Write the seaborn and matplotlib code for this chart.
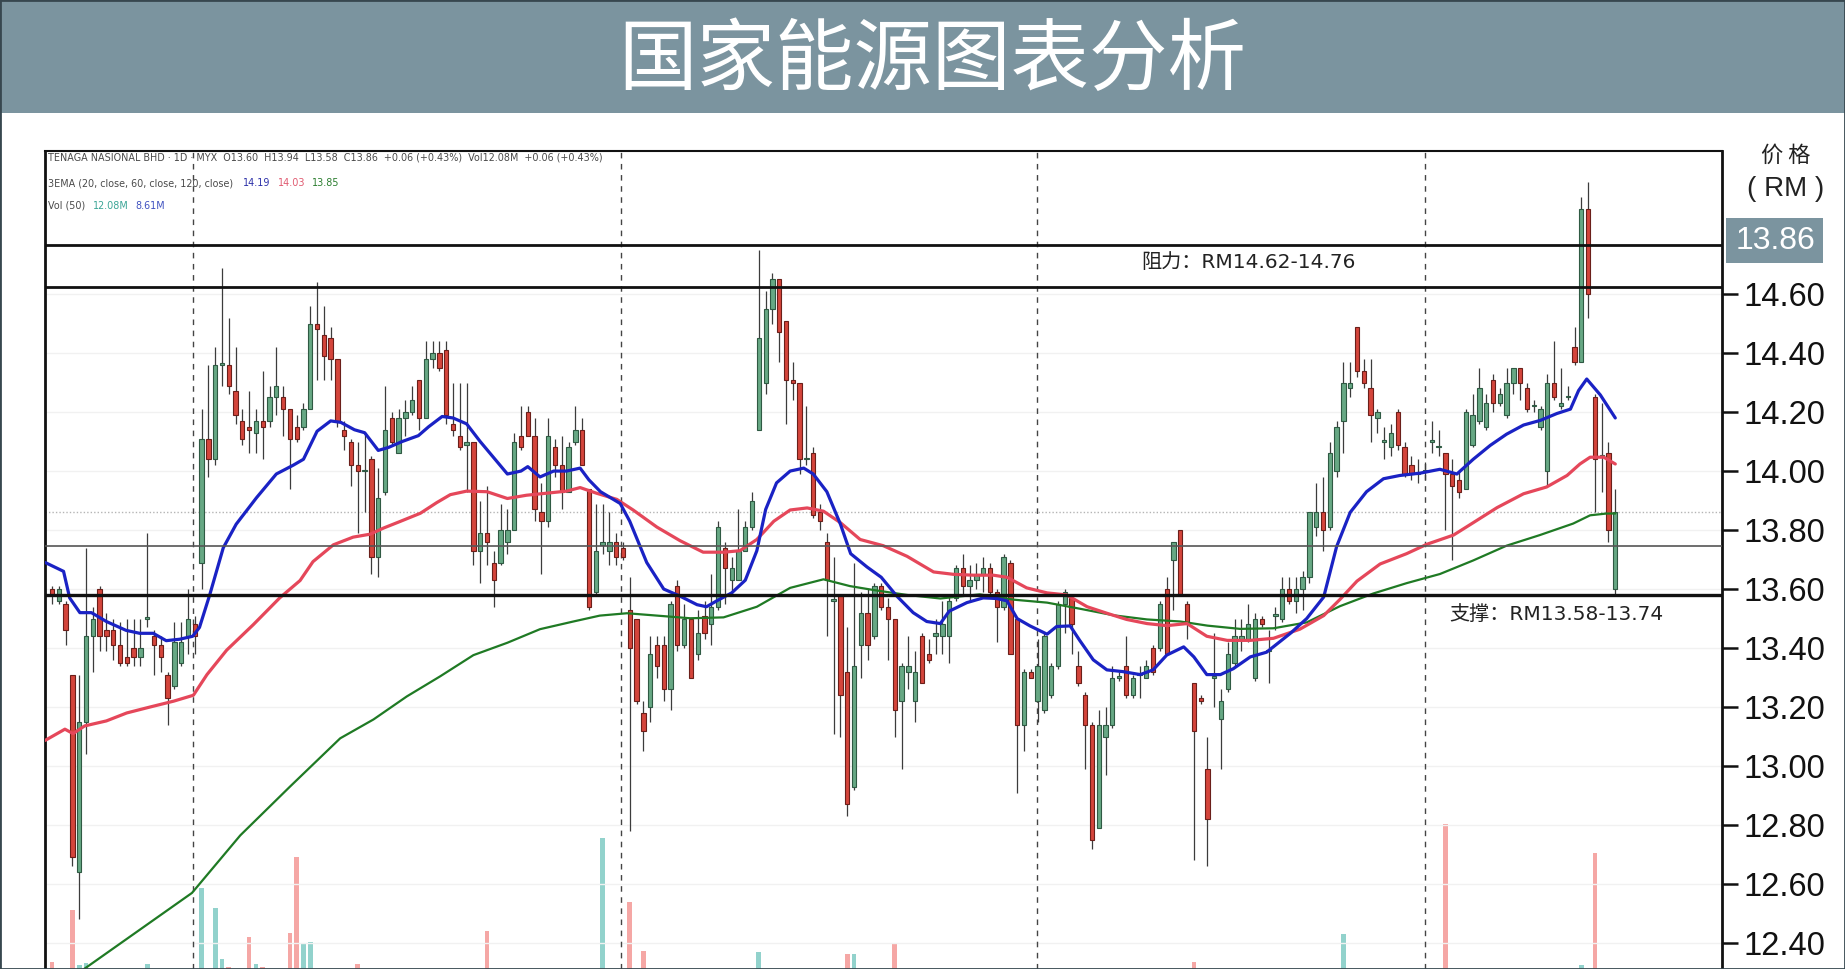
import numpy as np
import seaborn as sns
import matplotlib.pyplot as plt
from matplotlib import font_manager
from matplotlib.patches import Rectangle

W, H = 1845, 969

# ---- daily candles (index 0 = first visible day) ----
opens = [
    13.60, 13.56, 13.55, 13.31, 12.64, 13.15, 13.44, 13.60, 13.46, 13.46,
    13.41, 13.37, 13.40, 13.37, 13.50, 13.44, 13.41, 13.31, 13.27, 13.35,
    13.44, 13.48, 13.69, 14.11, 14.04, 14.36, 14.36, 14.27, 14.17, 14.15,
    14.13, 14.17, 14.17, 14.25, 14.25, 14.21, 14.15, 14.15, 14.21, 14.50,
    14.46, 14.45, 14.38, 14.14, 14.10, 14.02, 14.00, 14.04, 13.71, 13.93,
    14.18, 14.06, 14.18, 14.20, 14.31, 14.18, 14.38, 14.40, 14.41, 14.16,
    14.12, 14.09, 14.10, 13.73, 13.79, 13.69, 13.69, 13.76, 13.80, 14.12,
    14.20, 14.12, 13.86, 13.83, 14.08, 14.02, 13.93, 14.10, 14.14, 13.94,
    13.59, 13.75, 13.73, 13.76, 13.74, 13.53, 13.50, 13.18, 13.20, 13.41,
    13.41, 13.26, 13.61, 13.41, 13.50, 13.38, 13.51, 13.48, 13.54, 13.74,
    13.63, 13.63, 13.73, 13.81, 14.14, 14.30, 14.55, 14.65, 14.51, 14.31,
    14.30, 14.04, 14.06, 13.86, 13.76, 13.56, 13.58, 13.32, 12.93, 13.41,
    13.52, 13.44, 13.61, 13.54, 13.50, 13.22, 13.32, 13.22, 13.44, 13.38,
    13.44, 13.44, 13.44, 13.57, 13.67, 13.61, 13.63, 13.65, 13.67, 13.59,
    13.54, 13.69, 13.50, 13.14, 13.32, 13.22, 13.19, 13.24, 13.34, 13.55,
    13.57, 13.34, 13.24, 13.14, 12.79, 13.10, 13.14, 13.30, 13.34, 13.24,
    13.31, 13.30, 13.40, 13.40, 13.60, 13.70, 13.80, 13.55, 13.28, 13.23,
    12.99, 13.30, 13.16, 13.26, 13.35, 13.43, 13.43, 13.30, 13.50, 13.39,
    13.51, 13.50, 13.60, 13.56, 13.60, 13.64, 13.81, 13.86, 13.81, 14.00,
    14.17, 14.28, 14.49, 14.34, 14.28, 14.18, 14.10, 14.08, 14.20, 14.08,
    14.02, 13.99, 14.00, 14.10, 14.08, 14.06, 13.99, 13.97, 13.94, 14.09,
    14.17, 14.15, 14.31, 14.23, 14.19, 14.30, 14.35, 14.28, 14.22, 14.15,
    14.00, 14.30, 14.22, 14.25, 14.42, 14.37, 14.89, 14.25, 14.05, 14.06, 13.60,
]
highs = [
    13.61, 13.61, 13.56, 13.31, 13.31, 13.74, 13.54, 13.61, 13.52, 13.50,
    13.49, 13.50, 13.50, 13.50, 13.79, 13.46, 13.44, 13.32, 13.49, 13.49,
    13.60, 13.51, 14.21, 14.36, 14.42, 14.69, 14.52, 14.42, 14.21, 14.27,
    14.21, 14.34, 14.29, 14.42, 14.29, 14.21, 14.19, 14.23, 14.56, 14.64,
    14.56, 14.49, 14.38, 14.17, 14.11, 14.10, 14.13, 14.05, 14.01, 14.29,
    14.20, 14.21, 14.24, 14.29, 14.31, 14.44, 14.44, 14.44, 14.44, 14.30,
    14.30, 14.30, 14.10, 13.90, 13.95, 13.73, 13.89, 13.87, 14.13, 14.22,
    14.22, 14.18, 13.96, 14.18, 14.11, 14.12, 14.10, 14.22, 14.18, 13.94,
    13.89, 13.89, 13.86, 13.79, 13.76, 13.64, 13.50, 13.22, 13.44, 13.44,
    13.44, 13.56, 13.63, 13.55, 13.50, 13.53, 13.56, 13.65, 13.83, 13.76,
    13.71, 13.87, 13.83, 13.93, 14.75, 14.61, 14.67, 14.65, 14.51, 14.37,
    14.30, 14.22, 14.08, 13.89, 13.79, 13.71, 13.58, 13.47, 13.69, 13.59,
    13.60, 13.62, 13.62, 13.57, 13.50, 13.35, 13.44, 13.39, 13.45, 13.43,
    13.50, 13.56, 13.58, 13.68, 13.72, 13.68, 13.69, 13.71, 13.69, 13.60,
    13.72, 13.70, 13.50, 13.33, 13.33, 13.43, 13.45, 13.35, 13.56, 13.60,
    13.58, 13.39, 13.25, 13.15, 13.19, 13.20, 13.34, 13.32, 13.44, 13.31,
    13.34, 13.36, 13.41, 13.56, 13.64, 13.76, 13.80, 13.56, 13.28, 13.24,
    13.10, 13.45, 13.26, 13.42, 13.50, 13.50, 13.55, 13.52, 13.51, 13.46,
    13.54, 13.64, 13.64, 13.64, 13.66, 13.86, 13.96, 13.98, 14.10, 14.17,
    14.37, 14.37, 14.49, 14.38, 14.38, 14.21, 14.15, 14.16, 14.21, 14.10,
    14.05, 14.04, 14.03, 14.17, 14.14, 14.06, 14.04, 14.00, 14.21, 14.26,
    14.35, 14.26, 14.33, 14.28, 14.35, 14.35, 14.35, 14.30, 14.24, 14.22,
    14.33, 14.44, 14.35, 14.29, 14.49, 14.93, 14.98, 14.26, 14.23, 14.10, 13.94,
]
lows = [
    13.55, 13.55, 13.41, 12.66, 12.48, 13.04, 13.32, 13.39, 13.39, 13.36,
    13.34, 13.34, 13.34, 13.34, 13.47, 13.31, 13.32, 13.14, 13.26, 13.34,
    13.38, 13.38, 13.60, 13.98, 14.02, 14.29, 14.26, 14.16, 14.09, 14.06,
    14.06, 14.04, 14.15, 14.19, 14.12, 13.94, 14.10, 14.14, 14.21, 14.31,
    14.31, 14.31, 14.15, 14.07, 13.95, 13.79, 13.86, 13.65, 13.64, 13.92,
    14.09, 14.06, 14.12, 14.19, 14.14, 14.18, 14.35, 14.34, 14.16, 14.12,
    14.07, 13.93, 13.68, 13.62, 13.68, 13.54, 13.68, 13.72, 13.80, 14.07,
    14.12, 13.83, 13.65, 13.81, 13.98, 13.87, 13.93, 14.09, 14.02, 13.53,
    13.58, 13.72, 13.68, 13.68, 13.70, 12.78, 13.21, 13.05, 13.15, 13.30,
    13.22, 13.19, 13.39, 13.40, 13.30, 13.36, 13.43, 13.41, 13.53, 13.55,
    13.58, 13.63, 13.73, 13.80, 14.14, 14.26, 14.50, 14.37, 14.16, 14.24,
    13.99, 14.02, 13.84, 13.80, 13.44, 13.11, 13.10, 12.83, 12.92, 13.30,
    13.36, 13.43, 13.53, 13.36, 13.10, 12.99, 13.26, 13.15, 13.28, 13.35,
    13.38, 13.38, 13.35, 13.56, 13.58, 13.56, 13.60, 13.59, 13.58, 13.42,
    13.53, 13.38, 12.91, 13.05, 13.30, 13.15, 13.18, 13.23, 13.33, 13.45,
    13.38, 13.27, 12.99, 12.72, 12.79, 12.97, 13.13, 13.29, 13.23, 13.23,
    13.23, 13.30, 13.31, 13.39, 13.38, 13.53, 13.58, 13.43, 12.68, 13.21,
    12.66, 13.20, 12.99, 13.25, 13.34, 13.39, 13.42, 13.29, 13.47, 13.28,
    13.46, 13.49, 13.55, 13.52, 13.53, 13.62, 13.78, 13.73, 13.80, 13.98,
    14.06, 14.25, 14.32, 14.28, 14.10, 14.13, 14.04, 14.05, 14.07, 13.98,
    13.97, 13.96, 13.97, 14.06, 14.05, 13.80, 13.70, 13.91, 13.94, 14.08,
    14.16, 14.14, 14.20, 14.22, 14.18, 14.26, 14.24, 14.20, 14.20, 14.14,
    13.95, 14.24, 14.21, 14.24, 14.36, 14.37, 14.52, 13.86, 13.93, 13.76, 13.58,
]
closes = [
    13.58, 13.60, 13.46, 12.69, 13.15, 13.44, 13.50, 13.44, 13.44, 13.41,
    13.35, 13.35, 13.37, 13.40, 13.50, 13.41, 13.37, 13.23, 13.42, 13.42,
    13.50, 13.44, 14.11, 14.04, 14.36, 14.36, 14.29, 14.19, 14.11, 14.14,
    14.17, 14.15, 14.25, 14.29, 14.21, 14.11, 14.11, 14.21, 14.50, 14.48,
    14.39, 14.38, 14.17, 14.12, 14.02, 14.00, 14.00, 13.71, 13.91, 14.14,
    14.10, 14.18, 14.20, 14.24, 14.18, 14.38, 14.40, 14.35, 14.19, 14.14,
    14.08, 14.10, 13.73, 13.79, 13.76, 13.63, 13.80, 13.80, 14.10, 14.08,
    14.12, 13.87, 13.83, 14.12, 14.02, 13.93, 14.08, 14.14, 14.02, 13.54,
    13.73, 13.76, 13.76, 13.71, 13.71, 13.40, 13.22, 13.12, 13.38, 13.34,
    13.26, 13.55, 13.41, 13.50, 13.30, 13.45, 13.45, 13.54, 13.81, 13.67,
    13.67, 13.73, 13.81, 13.90, 14.45, 14.55, 14.65, 14.47, 14.31, 14.30,
    14.04, 14.04, 13.85, 13.83, 13.63, 13.56, 13.24, 12.87, 13.34, 13.52,
    13.41, 13.61, 13.54, 13.50, 13.19, 13.34, 13.34, 13.32, 13.28, 13.36,
    13.45, 13.48, 13.56, 13.67, 13.61, 13.63, 13.65, 13.67, 13.59, 13.54,
    13.71, 13.38, 13.14, 13.32, 13.30, 13.34, 13.44, 13.34, 13.55, 13.59,
    13.48, 13.28, 13.14, 12.75, 13.14, 13.14, 13.30, 13.30, 13.24, 13.30,
    13.31, 13.34, 13.32, 13.55, 13.38, 13.76, 13.58, 13.48, 13.12, 13.22,
    12.82, 13.30, 13.22, 13.38, 13.44, 13.44, 13.48, 13.50, 13.48, 13.39,
    13.51, 13.60, 13.56, 13.60, 13.64, 13.86, 13.86, 13.80, 14.06, 14.15,
    14.30, 14.30, 14.34, 14.30, 14.19, 14.20, 14.10, 14.13, 14.09, 13.99,
    13.99, 13.99, 14.00, 14.10, 14.08, 13.99, 13.95, 13.93, 14.20, 14.19,
    14.28, 14.23, 14.23, 14.26, 14.30, 14.35, 14.30, 14.21, 14.22, 14.21,
    14.30, 14.25, 14.23, 14.25, 14.37, 14.89, 14.60, 14.04, 14.05, 13.80, 13.86,
]

# volume (millions), only the days whose bars reach into the visible area
vol_idx = [0, 3, 4, 5, 14, 22, 24, 25, 26, 29, 30, 31, 35, 36, 37, 38, 45, 64,
           81, 85, 87, 104, 117, 118, 124, 168, 190, 205, 225, 227]
vol_m = [16.3, 25.0, 15.8, 16.2, 16.0, 28.7, 25.3, 16.8, 15.5, 20.5, 16.0, 15.5,
         21.2, 33.8, 19.3, 19.7, 16.0, 21.5, 37.0, 26.3, 18.2, 18.0, 17.7, 17.7,
         19.5, 16.3, 21.0, 39.3, 15.8, 34.5]

# EMA lines (day index, price)
ema20_x = [-1, 1.7, 2.6, 4.1, 5.8, 8, 10.9, 12.9, 14.9, 16.8,
           18.8, 20.7, 21.7, 23.2, 25.2, 27.1, 30.1, 33, 35.5, 37,
           39, 41, 42.5, 44.5, 46, 48, 49.5, 51.5, 53.9, 55.4,
           57.4, 59, 61, 63, 67, 69, 70, 71.8, 73.8, 75.7,
           77.7, 79, 80.7, 83.6, 85, 87.5, 90, 92.4, 94.9, 96.3,
           97.8, 100, 102, 103.7, 105, 106.6, 108.6, 110.6, 112, 114,
           116, 117.5, 119.9, 122, 124.3, 126.7, 128.7, 130.7, 132, 134.6,
           137, 139, 140.5, 142, 143.9, 146.4, 147.8, 149.8, 151.2, 153.2,
           155.2, 157.6, 160.1, 162, 164, 166.5, 168, 169.9, 171.9, 173.8,
           176.3, 178.7, 182.2, 184.6, 187.1, 189, 191, 193.4, 195.9, 198.3,
           201.3, 204.2, 206.7, 209.1, 211.6, 214, 216.5, 219, 221.4, 223.4,
           224.6, 225.8, 227.8, 230]
ema20_y = [13.69, 13.66, 13.57, 13.52, 13.52, 13.49, 13.46, 13.45, 13.45, 13.425,
           13.43, 13.44, 13.47, 13.58, 13.74, 13.82, 13.91, 13.99, 14.02, 14.04,
           14.135, 14.17, 14.165, 14.14, 14.13, 14.07, 14.08, 14.10, 14.12, 14.15,
           14.185, 14.18, 14.16, 14.10, 13.99, 14.00, 14.015, 13.98, 14.00, 14.00,
           14.01, 13.97, 13.93, 13.89, 13.83, 13.69, 13.60, 13.576, 13.547, 13.54,
           13.56, 13.587, 13.63, 13.73, 13.87, 13.96, 14.00, 14.01, 13.99, 13.93,
           13.82, 13.72, 13.675, 13.64, 13.576, 13.52, 13.49, 13.483, 13.525, 13.554,
           13.57, 13.568, 13.56, 13.50, 13.475, 13.447, 13.473, 13.475, 13.426, 13.36,
           13.326, 13.32, 13.31, 13.326, 13.376, 13.404, 13.37, 13.31, 13.31, 13.33,
           13.37, 13.386, 13.45, 13.50, 13.573, 13.744, 13.86, 13.93, 13.974, 13.985,
           13.993, 14.006, 13.99, 14.04, 14.087, 14.125, 14.156, 14.172, 14.195, 14.21,
           14.273, 14.312, 14.258, 14.18]
ema60_x = [-1, 1.9, 3.1, 4.8, 8, 11, 14.4, 17.9, 20.8, 22.8,
           25.7, 29.6, 33.5, 36.5, 38.4, 41.4, 44.3, 46.8, 48.8, 51.2,
           54.2, 56.6, 58.6, 61, 64, 67, 69.8, 72.8, 75.7, 77.7,
           80.1, 83.1, 85.5, 89, 92.4, 95.8, 98.9, 101.2, 103.7, 106.2,
           108.6, 111.1, 113.5, 116, 118.9, 122.3, 125.8, 129.7, 132.6, 135.6,
           138.5, 140.5, 143.4, 146.4, 149.3, 152.3, 155.2, 158.1, 161.1, 164,
           167, 169.9, 172.9, 176.3, 179.7, 183.6, 187.1, 189.5, 192, 195.4,
           199.3, 202.3, 206.2, 209.1, 212.6, 216.5, 219.9, 222.9, 224.8, 226.3,
           228.3, 230]
ema60_y = [13.087, 13.125, 13.11, 13.136, 13.153, 13.18, 13.20, 13.22, 13.24, 13.31,
           13.393, 13.479, 13.57, 13.629, 13.693, 13.75, 13.776, 13.786, 13.807, 13.829,
           13.857, 13.893, 13.92, 13.932, 13.93, 13.907, 13.918, 13.925, 13.932, 13.944,
           13.925, 13.904, 13.868, 13.81, 13.764, 13.725, 13.725, 13.73, 13.768, 13.83,
           13.868, 13.875, 13.864, 13.825, 13.768, 13.747, 13.711, 13.658, 13.65, 13.647,
           13.647, 13.64, 13.604, 13.587, 13.58, 13.54, 13.518, 13.497, 13.483, 13.476,
           13.483, 13.44, 13.426, 13.426, 13.433, 13.464, 13.51, 13.565, 13.627, 13.685,
           13.72, 13.752, 13.783, 13.825, 13.876, 13.923, 13.946, 13.985, 14.024, 14.047,
           14.047, 14.024]
ema120_x = [-1, 4.6, 12.6, 20.6, 27.7, 35, 42.4, 47.3, 52.2, 57.1,
            62, 67, 71.8, 76.7, 80.6, 84.6, 89, 93.9, 98.8, 103.7,
            108.6, 113.5, 117.4, 120.8, 125.8, 130.7, 136.5, 141.5, 146.4, 151.3,
            156.2, 161.1, 166, 170, 174.8, 179.7, 184.6, 189.5, 194.4, 199.3,
            204.2, 209.1, 214, 218.9, 223.8, 226.3, 228.7, 230]
ema120_y = [12.22, 12.31, 12.44, 12.57, 12.765, 12.93, 13.094, 13.158, 13.236, 13.304,
            13.376, 13.418, 13.464, 13.49, 13.51, 13.518, 13.51, 13.501, 13.504, 13.54,
            13.604, 13.633, 13.61, 13.597, 13.58, 13.568, 13.582, 13.564, 13.554, 13.533,
            13.511, 13.497, 13.49, 13.476, 13.465, 13.467, 13.487, 13.542, 13.585, 13.62,
            13.651, 13.697, 13.747, 13.783, 13.822, 13.85, 13.856, 13.856]

price_ticks = [12.40, 12.60, 12.80, 13.00, 13.20, 13.40, 13.60, 13.80, 14.00, 14.20, 14.40, 14.60]
resistance = [14.766, 14.624]
support = 13.58
support_top = 13.746
last_close = 13.86
period_breaks = [20.75, 83.7, 144.9, 202.0]

header1 = ("TENAGA NASIONAL BHD · 1D · MYX  O13.60  H13.94  L13.58  C13.86  "
           "+0.06 (+0.43%)  Vol12.08M  +0.06 (+0.43%)")

sns.set_theme(style="white")
installed = {f.name for f in font_manager.fontManager.ttflist}
narrow = 'Liberation Sans Narrow' if 'Liberation Sans Narrow' in installed else 'DejaVu Sans'
is_narrow = narrow == 'Liberation Sans Narrow'
cjk = 'Noto Sans CJK SC'
plt.rcParams['font.family'] = [narrow, cjk, 'DejaVu Sans']

fig = plt.figure(figsize=(W / 100, H / 100), dpi=100)
fig.patch.set_facecolor('white')


def fx(x):
    return x / W


def fy(y):
    # y measured in pixels from the top of the picture
    return 1 - y / H


# title bar
fig.add_artist(Rectangle((0, fy(113)), 1, 113 / H, transform=fig.transFigure,
                         facecolor='#7b949f', edgecolor='none', zorder=0))
fig.text(fx(932), fy(61), '国家能源图表分析', color='white', fontsize=56.5,
         family=[cjk], ha='center', va='center')

# main price axes (runs off the bottom of the picture)
ax = fig.add_axes([fx(45), 0, fx(1722) - fx(45), fy(151)])
axv = ax.twinx()
ax.set_zorder(axv.get_zorder() + 1)
ax.patch.set_visible(False)

# volume bars
o = np.array(opens)
c = np.array(closes)
up = c >= o
vidx = np.array(vol_idx)
vcol = ['#92d2cc' if up[i] else '#f5a7a5' for i in vol_idx]
axv.bar(vidx, vol_m, width=0.7, color=vcol, linewidth=0)
axv.set_ylim(15.17, 151.5)
axv.set_yticks([])
for s in axv.spines.values():
    s.set_visible(False)

# candles
idx = np.arange(len(closes))
body_lo = np.minimum(o, c)
body_h = np.maximum(np.abs(c - o), 0.005)
ax.vlines(idx, lows, highs, color='#3c3c3c', linewidth=0.9, zorder=3)
ax.bar(idx[up], body_h[up], bottom=body_lo[up], width=0.64, color='#67a884',
       edgecolor='#2f5a43', linewidth=0.8, zorder=4)
ax.bar(idx[~up], body_h[~up], bottom=body_lo[~up], width=0.64, color='#d4453b',
       edgecolor='#6b1f1a', linewidth=0.8, zorder=4)

# EMA lines
sns.lineplot(x=ema120_x, y=ema120_y, ax=ax, color='#1f7a24', linewidth=1.6,
             estimator=None, sort=False, zorder=5)
sns.lineplot(x=ema60_x, y=ema60_y, ax=ax, color='#e5475a', linewidth=2.3,
             estimator=None, sort=False, zorder=5)
sns.lineplot(x=ema20_x, y=ema20_y, ax=ax, color='#1a22c4', linewidth=2.3,
             estimator=None, sort=False, zorder=6)

# drawn levels
for r in resistance:
    ax.axhline(r, color='#111111', linewidth=2.0, zorder=7)
ax.axhline(support, color='#111111', linewidth=2.4, zorder=7)
ax.axhline(support_top, color='#555555', linewidth=1.2, zorder=7)
ax.axhline(last_close, color='#b5b5b5', linewidth=1.0, linestyle=(0, (1, 1.5)), zorder=2)
for b in period_breaks:
    ax.axvline(b, color='#444444', linewidth=1.0, linestyle=(0, (4, 4)), zorder=2)

ax.set_xlim(-1.03, 245.7)
ax.set_ylim(12.312, 15.085)
ax.set_xticks([])
ax.set_xlabel('')
ax.set_ylabel('')
ax.yaxis.tick_right()
ax.set_yticks(price_ticks)
ax.set_yticklabels([f'{t:.2f}' for t in price_ticks])
ax.tick_params(axis='y', direction='out', length=11.5, width=1.8, pad=4,
               labelsize=23.5, colors='#111111', right=True, left=False)
for lab in ax.get_yticklabels():
    lab.set_fontfamily('Liberation Sans')
ax.grid(axis='y', color='#f1f1f1', linewidth=1)
ax.set_axisbelow(True)
ax.spines['bottom'].set_visible(False)
ax.spines['left'].set_linewidth(2)
ax.spines['right'].set_linewidth(2)
ax.spines['top'].set_linewidth(1.5)
for s in ['left', 'right', 'top']:
    ax.spines[s].set_color('#111111')

# legend lines (top left)
s_small = 8.8 if is_narrow else 6.9
grey = '#4a4a4a'
fig.text(fx(48), fy(158), header1, fontsize=s_small, color=grey, va='center', ha='left')
fig.text(fx(48), fy(183), '3EMA (20, close, 60, close, 120, close)', fontsize=s_small,
         color=grey, va='center', ha='left')
fig.text(fx(243), fy(183), '14.19', fontsize=s_small, color='#2b2fa8', va='center')
fig.text(fx(278), fy(183), '14.03', fontsize=s_small, color='#e05a70', va='center')
fig.text(fx(312), fy(183), '13.85', fontsize=s_small, color='#2a7d2e', va='center')
fig.text(fx(48), fy(206), 'Vol (50)', fontsize=s_small, color=grey, va='center')
fig.text(fx(93), fy(206), '12.08M', fontsize=s_small, color='#3aa596', va='center')
fig.text(fx(135), fy(206), '8.61M', fontsize=s_small, color='#3f51c0', va='center')

# level annotations
s_note = 19.5 if is_narrow else 14.5
fig.text(fx(1141), fy(263), '阻力：RM14.62-14.76', fontsize=s_note, color='#222222',
         va='center', ha='left', family=[narrow, cjk])
fig.text(fx(1449), fy(614), '支撑：RM13.58-13.74', fontsize=s_note, color='#222222',
         va='center', ha='left', family=[narrow, cjk])

# price axis caption and last price box
fig.text(fx(1786), fy(155), '价 格', fontsize=16, color='#222222', ha='center',
         va='center', family=[cjk])
fig.text(fx(1786), fy(189), '( RM )', fontsize=20, color='#222222', ha='center',
         va='center', family=['Liberation Sans'])
fig.add_artist(Rectangle((fx(1726), fy(263)), fx(1823) - fx(1726), 45 / H,
                         transform=fig.transFigure, facecolor='#7b949f',
                         edgecolor='none', zorder=5))
fig.text(fx(1775), fy(241), f'{last_close:.2f}', fontsize=23, color='white',
         ha='center', va='center', family=['Liberation Sans'], zorder=6)

# outer frame
fig.add_artist(Rectangle((0, 0), 1, 1, transform=fig.transFigure, facecolor='none',
                         edgecolor='#37474f', linewidth=2, zorder=10))

fig.savefig('out.png', dpi=100)
